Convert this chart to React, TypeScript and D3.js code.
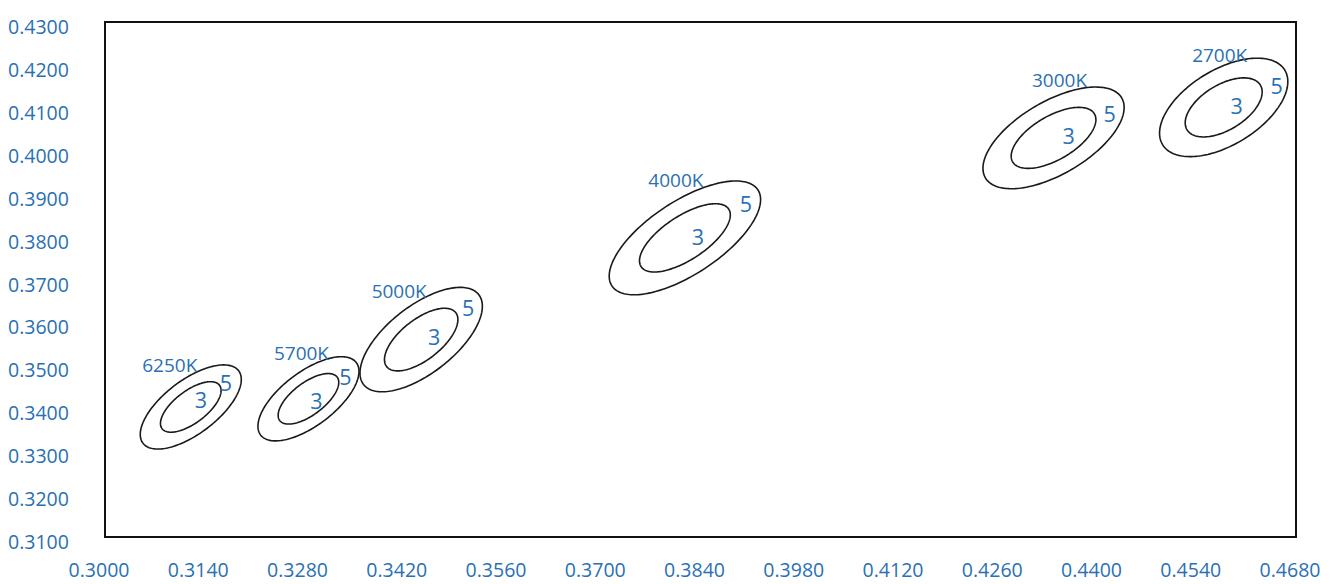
import React from "react";
import * as d3 from "d3";

// MacAdam ellipses (1-step semi-axes) for each nominal CCT, in CIE 1931 x,y
const names = ["6250K", "5700K", "5000K", "4000K", "3000K", "2700K"];
const centerX = [0.3121, 0.3287, 0.3446, 0.3818, 0.4338, 0.4578];
const centerY = [0.3403, 0.3422, 0.356, 0.3797, 0.403, 0.4101];
const semiMajor = [0.00223, 0.00223, 0.00274, 0.00313, 0.00278, 0.00258];
const semiMinor = [0.00095, 0.00095, 0.00118, 0.00134, 0.00136, 0.00137];
const angleDeg = [58.23, 58.23, 59.37, 54.0, 53.13, 57.28];
const steps = [3, 5];

const xTicks = [0.3, 0.314, 0.328, 0.342, 0.356, 0.37, 0.384, 0.398, 0.412, 0.426, 0.44, 0.454, 0.468];
const yTicks = [0.31, 0.32, 0.33, 0.34, 0.35, 0.36, 0.37, 0.38, 0.39, 0.4, 0.41, 0.42, 0.43];

// Label placement relative to each ellipse centre, in pixels
const labelLayout: Record<string, { name: [number, number]; s5: [number, number]; s3: [number, number] }> = {
  "6250K": { name: [-21, -42], s5: [35, -24], s3: [10, -7] },
  "5700K": { name: [-7, -46], s5: [37, -22], s3: [8, 2] },
  "5000K": { name: [-22, -49], s5: [47, -32], s3: [13, -3] },
  "4000K": { name: [-9, -58], s5: [61, -34], s3: [13, -1] },
  "3000K": { name: [6, -58], s5: [56, -24], s3: [15, -2] },
  "2700K": { name: [-4, -52], s5: [53, -22], s3: [13, -2] },
};

const W = 1334;
const H = 584;
const plot = { left: 105, right: 1296, top: 22, bottom: 537 };
const BLUE = "#2A70B3";
const FONT = "'Open Sans', sans-serif";

export default function App() {
  const x = d3.scaleLinear().domain([0.3, 0.468]).range([plot.left, plot.right]);
  const y = d3.scaleLinear().domain([0.31, 0.43]).range([plot.bottom, plot.top]);

  const line = d3
    .line<[number, number]>()
    .x((d) => x(d[0]))
    .y((d) => y(d[1]))
    .curve(d3.curveLinearClosed);

  const ellipsePath = (i: number, k: number) => {
    const th = (angleDeg[i] * Math.PI) / 180;
    const a = semiMajor[i] * k;
    const b = semiMinor[i] * k;
    const pts: [number, number][] = d3.range(0, 180).map((j) => {
      const t = (j / 180) * 2 * Math.PI;
      const ex = a * Math.cos(t);
      const ey = b * Math.sin(t);
      return [
        centerX[i] + ex * Math.cos(th) - ey * Math.sin(th),
        centerY[i] + ex * Math.sin(th) + ey * Math.cos(th),
      ];
    });
    return line(pts) || "";
  };

  return (
    <svg
      width={W}
      height={H}
      style={{ position: "fixed", left: 0, top: 0, background: "#fff" }}
      fontFamily={FONT}
    >
      <rect x={0} y={0} width={W} height={H} fill="#fff" />
      <rect
        x={plot.left}
        y={plot.top}
        width={plot.right - plot.left}
        height={plot.bottom - plot.top}
        fill="none"
        stroke="#111"
        strokeWidth={2}
      />

      {yTicks.map((v) => (
        <text
          key={"y" + v}
          x={8}
          y={y(v) + 4.5}
          fill={BLUE}
          fontSize={19.5}
          dominantBaseline="central"
        >
          {d3.format(".4f")(v)}
        </text>
      ))}
      {xTicks.map((v) => (
        <text
          key={"x" + v}
          x={x(v) - 6}
          y={569}
          fill={BLUE}
          fontSize={19.5}
          textAnchor="middle"
          dominantBaseline="central"
        >
          {d3.format(".4f")(v)}
        </text>
      ))}

      {names.map((n, i) => {
        const cx = x(centerX[i]);
        const cy = y(centerY[i]);
        const L = labelLayout[n];
        return (
          <g key={n}>
            {steps.map((k) => (
              <path key={k} d={ellipsePath(i, k)} fill="none" stroke="#1a1a1a" strokeWidth={1.6} />
            ))}
            <text
              x={cx + L.name[0]}
              y={cy + L.name[1]}
              fill={BLUE}
              fontSize={19}
              textAnchor="middle"
              dominantBaseline="central"
            >
              {n}
            </text>
            <text
              x={cx + L.s5[0]}
              y={cy + L.s5[1]}
              fill={BLUE}
              fontSize={21.5}
              textAnchor="middle"
              dominantBaseline="central"
            >
              {steps[1]}
            </text>
            <text
              x={cx + L.s3[0]}
              y={cy + L.s3[1]}
              fill={BLUE}
              fontSize={21.5}
              textAnchor="middle"
              dominantBaseline="central"
            >
              {steps[0]}
            </text>
          </g>
        );
      })}
    </svg>
  );
}
